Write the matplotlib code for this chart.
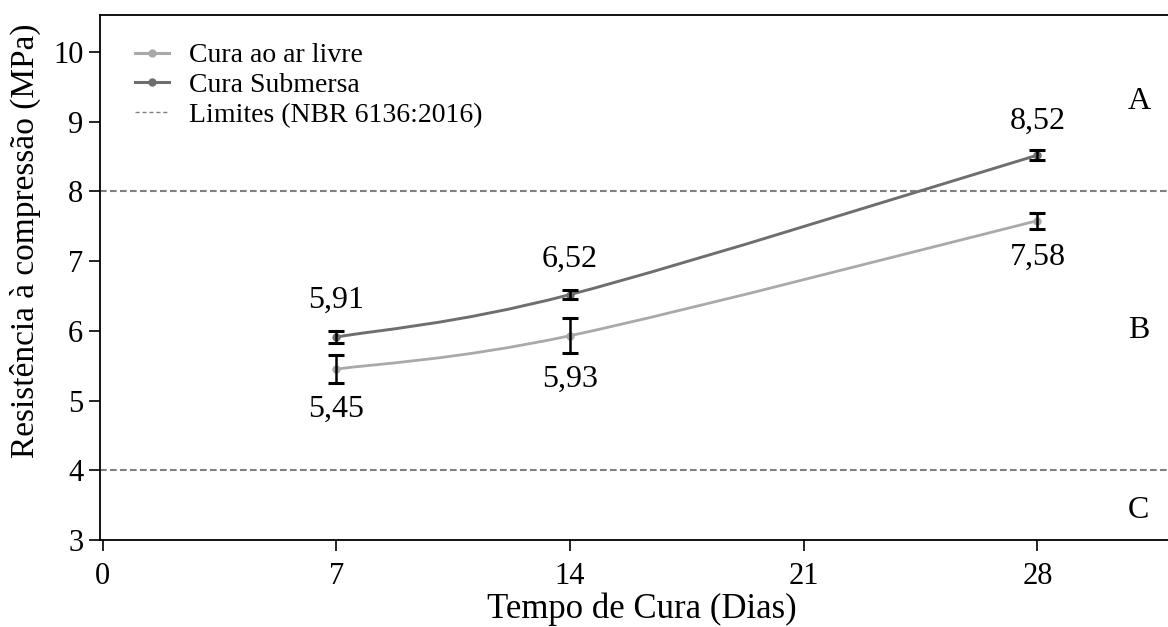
import numpy as np
import matplotlib
matplotlib.use("Agg")
import matplotlib.pyplot as plt
from matplotlib.path import Path
from matplotlib.patches import PathPatch
from matplotlib.lines import Line2D

plt.rcParams['font.family'] = ['Liberation Serif', 'DejaVu Serif']

dias = [7, 14, 28]
ar_livre = [5.45, 5.93, 7.58]
ar_livre_err = [0.20, 0.25, 0.115]
submersa = [5.91, 6.52, 8.52]
submersa_err = [0.09, 0.07, 0.07]
limites = [8, 4]
classes = ["A", "B", "C"]
classes_y = [9.29, 6.0, 3.43]
x_ticks = [0, 7, 14, 21, 28]
y_ticks = [3, 4, 5, 6, 7, 8, 9, 10]

# label offsets (points) — styling only
off_sub = [26.8, 25.3, 24.2]
off_ar = [-28.7, -31.1, -26.5]

c_ar = "#a9a9a9"
c_sub = "#6e6e6e"

fig = plt.figure(figsize=(11.68, 6.27), dpi=100)
ax = fig.add_axes([100/1168, 1-540/627, 1084/1168, (540-15)/627])


def smooth_path(xs, ys):
    pts = np.column_stack([xs, ys]).astype(float)
    n = len(pts)
    verts = [pts[0]]
    codes = [Path.MOVETO]
    for i in range(n - 1):
        p_prev = pts[i - 1] if i > 0 else pts[i]
        p0 = pts[i]
        p1 = pts[i + 1]
        p_next = pts[i + 2] if i + 2 < n else pts[i + 1]
        c1 = p0 + (p1 - p_prev) / 6.0
        c2 = p1 - (p_next - p0) / 6.0
        verts += [c1, c2, p1]
        codes += [Path.CURVE4] * 3
    return Path(verts, codes)


for ys, col, lw in [(ar_livre, c_ar, 2.0), (submersa, c_sub, 2.1)]:
    ax.add_patch(PathPatch(smooth_path(dias, ys), fill=False, edgecolor=col,
                           linewidth=lw, capstyle='round', zorder=3))
    ax.plot(dias, ys, linestyle='none', marker='o', markersize=5,
            color=col, zorder=3)

for ys, err in [(ar_livre, ar_livre_err), (submersa, submersa_err)]:
    ax.errorbar(dias, ys, yerr=err, fmt='none', ecolor='black',
                elinewidth=1.8, capsize=5.5, capthick=2.2, zorder=4)

for lim in limites:
    ax.axhline(lim, color="#808080", linestyle=(0, (3.2, 1.6)), linewidth=1.5, zorder=1)

fs = 23
for x, y, o in zip(dias, submersa, off_sub):
    ax.annotate(f"{y:.2f}".replace(".", ","), (x, y), xytext=(0, o),
                textcoords='offset points', ha='center', va='center', fontsize=fs)
for x, y, o in zip(dias, ar_livre, off_ar):
    ax.annotate(f"{y:.2f}".replace(".", ","), (x, y), xytext=(0, o),
                textcoords='offset points', ha='center', va='center', fontsize=fs)

for lab, yv in zip(classes, classes_y):
    ax.text(31.04, yv, lab, ha='center', va='center', fontsize=fs)

ax.set_xlim(-0.075, 32.39)
ax.set_ylim(3, 10.53)
ax.set_xticks(x_ticks)
ax.set_yticks(y_ticks)
ax.tick_params(axis='both', labelsize=22, length=8, width=1.2, color='black',
               direction='out')
ax.tick_params(axis='x', pad=8)
ax.tick_params(axis='y', pad=4)
for s in ['left', 'bottom', 'top']:
    ax.spines[s].set_linewidth(1.3)
    ax.spines[s].set_color('black')
ax.spines['right'].set_visible(False)

ax.set_xlabel("Tempo de Cura (Dias)", fontsize=25, va='center')
ax.xaxis.set_label_coords(0.5, -0.131)
ax.set_ylabel("Resistência à compressão (MPa)", fontsize=24, va='center', ha='center')
ax.yaxis.set_label_coords(-0.069, 0.57)

handles = [
    Line2D([], [], color=c_ar, linewidth=2.2, marker='o', markersize=5),
    Line2D([], [], color=c_sub, linewidth=2.2, marker='o', markersize=5),
    Line2D([], [], color="#808080", linewidth=1.0, linestyle=(0, (3, 2))),
]
labels = ["Cura ao ar livre", "Cura Submersa", "Limites (NBR 6136:2016)"]
ax.legend(handles, labels, loc='upper left', bbox_to_anchor=(0.032, 0.947),
          frameon=False, fontsize=20, handlelength=1.25, handletextpad=0.72,
          labelspacing=0.16, borderaxespad=0, borderpad=0)

fig.savefig("out.png", dpi=100)
